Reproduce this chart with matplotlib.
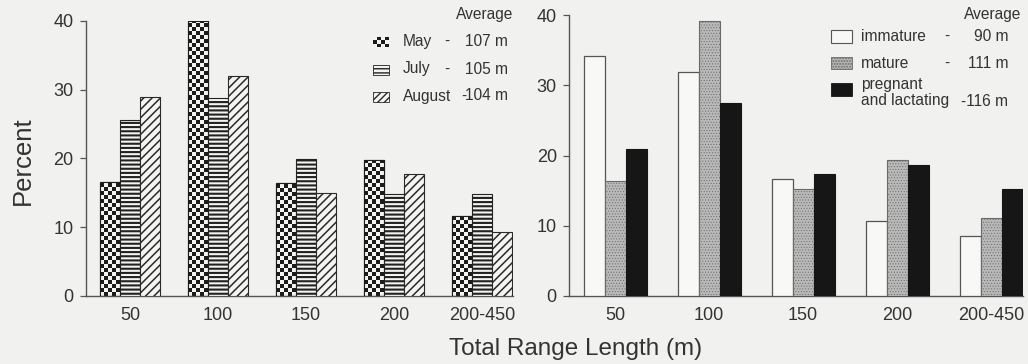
import numpy as np
import matplotlib
matplotlib.use("Agg")
import matplotlib.pyplot as plt
from matplotlib.patches import Rectangle
from matplotlib.colors import ListedColormap

# ---------------- data ----------------
categories = ['50', '100', '150', '200', '200-450']
may = [16.6, 40.0, 16.4, 19.8, 11.6]
july = [25.5, 28.7, 19.9, 14.8, 14.8]
august = [28.9, 31.9, 14.9, 17.7, 9.3]
immature = [34.2, 31.9, 16.6, 10.7, 8.6]
mature = [16.3, 39.2, 15.2, 19.4, 11.1]
pregnant = [20.9, 27.5, 17.3, 18.6, 15.3]
yticks = [0, 10, 20, 30, 40]

W, H = 1028, 364
BG = '#f1f1ef'
TXT = '#333333'
LFS = 11.2
plt.rcParams['font.family'] = ['Liberation Sans', 'DejaVu Sans']

fig = plt.figure(figsize=(W / 100, H / 100), dpi=100, facecolor=BG)


def fx(x):
    return x / W


def fy(y):
    return 1 - y / H


def make_axes(x0, x1, ytop, ybot):
    ax = fig.add_axes([fx(x0), fy(ybot), fx(x1 - x0), (ybot - ytop) / H])
    ax.set_facecolor('none')
    for s in ['top', 'right']:
        ax.spines[s].set_visible(False)
    for s in ['left', 'bottom']:
        ax.spines[s].set_color('#555555')
        ax.spines[s].set_linewidth(1.0)
    ax.set_ylim(0, 40)
    ax.set_yticks(yticks)
    ax.tick_params(axis='y', length=4, width=0.9, color='#555555', pad=5,
                   labelsize=13, labelcolor=TXT)
    ax.tick_params(axis='x', length=0, pad=8, labelsize=13, labelcolor=TXT)
    return ax


def set_hlw(bars, lw):
    for b in bars:
        if hasattr(b, 'set_hatch_linewidth'):
            b.set_hatch_linewidth(lw)


checker_cmap = ListedColormap(['#f4f4f2', '#1c1c1c'])

# ---------------- left panel ----------------
axL = make_axes(86, 513, 20.7, 296)
xs = np.arange(len(categories))
wL = 20 / 88
ppuL = (296 - 20.7) / 40.0
cellL = 4.0 / ppuL

may_bars = axL.bar(xs - wL, may, wL, color='#f4f4f2', edgecolor='#1c1c1c',
                   linewidth=0.8, zorder=1)
for rect in may_bars:
    x0 = rect.get_x()
    h = rect.get_height()
    nrows = int(np.ceil(h / cellL))
    arr = (np.add.outer(np.arange(nrows), np.arange(5)) % 2)
    im = axL.imshow(arr, cmap=checker_cmap, origin='lower', aspect='auto',
                    interpolation='nearest',
                    extent=(x0, x0 + wL, 0, nrows * cellL), zorder=2)
    im.set_clip_path(rect)
axL.bar(xs - wL, may, wL, facecolor='none', edgecolor='#1c1c1c', linewidth=0.8,
        zorder=3)

jb = axL.bar(xs, july, wL, color='#f4f4f2', edgecolor='#222222', hatch='----',
             linewidth=0.8, zorder=3)
ab = axL.bar(xs + wL, august, wL, color='#f4f4f2', edgecolor='#2a2a2a',
             hatch='////', linewidth=0.8, zorder=3)
set_hlw(jb, 1.5)
set_hlw(ab, 1.1)

axL.set_xlim((86 - 130) / 88, (513 - 130) / 88)
axL.set_xticks(xs)
axL.set_xticklabels(categories)

# ---------------- right panel ----------------
axR = make_axes(569.3, 1023, 15, 296)
wR = 21 / 94
axR.bar(xs - wR, immature, wR, color='#f8f8f6', edgecolor='#555555',
        linewidth=0.9, zorder=3)
mb = axR.bar(xs, mature, wR, color='#b9b9b9', edgecolor='#6a6a6a',
             hatch='......', linewidth=0.8, zorder=3)
set_hlw(mb, 0.4)
axR.bar(xs + wR, pregnant, wR, color='#161616', edgecolor='#161616',
        linewidth=0.8, zorder=3)
axR.set_xlim((569.3 - 615) / 94, (1023 - 615) / 94)
axR.set_xticks(xs)
axR.set_xticklabels(categories)

# ---------------- axis labels ----------------
fig.text(fx(23), fy(161), 'Percent', rotation=90, ha='center', va='center',
         fontsize=18.5, color=TXT)
fig.text(fx(576), fy(355), 'Total Range Length (m)', ha='center',
         va='baseline', fontsize=17.5, color=TXT)

# ---------------- left legend ----------------
fig.text(fx(513), fy(15), 'Average', ha='right', va='center', fontsize=LFS,
         color=TXT)
axC = fig.add_axes([fx(373), fy(46.7), fx(16), 9.7 / H])
axC.imshow(np.add.outer(np.arange(3), np.arange(4)) % 2, cmap=checker_cmap,
           aspect='auto', interpolation='nearest')
axC.set_axis_off()
r = Rectangle((fx(373), fy(75)), fx(16), 10 / H, transform=fig.transFigure,
              facecolor='#f4f4f2', edgecolor='#222222', hatch='----',
              linewidth=0.6)
fig.add_artist(r)
r = Rectangle((fx(373), fy(101.7)), fx(16), 10 / H,
              transform=fig.transFigure, facecolor='#f4f4f2',
              edgecolor='#2a2a2a', hatch='/////', linewidth=0.6)
fig.add_artist(r)
leg_rows = [(41.7, 'May', 447, '107 m'), (69, 'July', 447, '105 m'),
            (96, 'August', 464, '104 m')]
for y, name, dx, val in leg_rows:
    fig.text(fx(403), fy(y), name, ha='left', va='center', fontsize=LFS,
             color=TXT)
    fig.text(fx(dx), fy(y), '-', ha='center', va='center', fontsize=LFS,
             color=TXT)
    fig.text(fx(508), fy(y), val, ha='right', va='center', fontsize=LFS,
             color=TXT)

# ---------------- right legend ----------------
fig.text(fx(1021.7), fy(15), 'Average', ha='right', va='center',
         fontsize=LFS, color=TXT)
fig.add_artist(Rectangle((fx(830.7), fy(43)), fx(21), 13 / H,
                         transform=fig.transFigure, facecolor='#f8f8f6',
                         edgecolor='#555555', linewidth=0.8))
fig.add_artist(Rectangle((fx(830.7), fy(69)), fx(21), 12 / H,
                         transform=fig.transFigure, facecolor='#b9b9b9',
                         edgecolor='#6a6a6a', hatch='......', linewidth=0.6))
fig.add_artist(Rectangle((fx(830.7), fy(96)), fx(21), 13 / H,
                         transform=fig.transFigure, facecolor='#161616',
                         edgecolor='#161616', linewidth=0.6))
fig.text(fx(860.7), fy(36.7), 'immature', ha='left', va='center',
         fontsize=LFS, color=TXT)
fig.text(fx(946.7), fy(36.7), '-', ha='center', va='center', fontsize=LFS,
         color=TXT)
fig.text(fx(1008), fy(36.7), '90 m', ha='right', va='center', fontsize=LFS,
         color=TXT)
fig.text(fx(860.7), fy(63), 'mature', ha='left', va='center', fontsize=LFS,
         color=TXT)
fig.text(fx(946.7), fy(63), '-', ha='center', va='center', fontsize=LFS,
         color=TXT)
fig.text(fx(1008), fy(63), '111 m', ha='right', va='center', fontsize=LFS,
         color=TXT)
fig.text(fx(860.7), fy(84), 'pregnant', ha='left', va='center',
         fontsize=LFS, color=TXT)
fig.text(fx(860.7), fy(101), 'and lactating', ha='left', va='center',
         fontsize=LFS, color=TXT)
fig.text(fx(1008), fy(101), '-116 m', ha='right', va='center',
         fontsize=LFS, color=TXT)

fig.savefig('out.png', dpi=100, facecolor=BG)
